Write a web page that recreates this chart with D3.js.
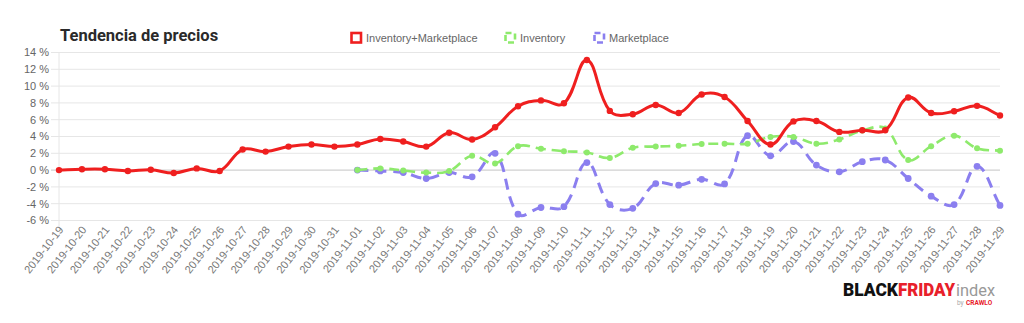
<!DOCTYPE html>
<html><head><meta charset="utf-8">
<script src="https://cdn.jsdelivr.net/npm/d3@7"></script>
<style>
html,body{margin:0;padding:0;background:#fff;}
svg{display:block;font-family:"Liberation Sans",Arial,sans-serif;}
</style></head>
<body>
<svg id="c" width="1024" height="323"></svg>
<script>
const dates = ["2019-10-19","2019-10-20","2019-10-21","2019-10-22","2019-10-23","2019-10-24","2019-10-25","2019-10-26","2019-10-27","2019-10-28","2019-10-29","2019-10-30","2019-10-31",
"2019-11-01","2019-11-02","2019-11-03","2019-11-04","2019-11-05","2019-11-06","2019-11-07","2019-11-08","2019-11-09","2019-11-10","2019-11-11","2019-11-12","2019-11-13","2019-11-14","2019-11-15","2019-11-16","2019-11-17","2019-11-18","2019-11-19","2019-11-20","2019-11-21","2019-11-22","2019-11-23","2019-11-24","2019-11-25","2019-11-26","2019-11-27","2019-11-28","2019-11-29"];
const invMarket = [0.0,0.1,0.1,-0.1,0.05,-0.35,0.2,-0.1,2.45,2.2,2.8,3.05,2.8,
3.05,3.7,3.4,2.8,4.45,3.65,5.1,7.6,8.3,7.95,13.1,7.05,6.65,7.75,6.8,9.0,8.7,5.85,3.05,5.8,5.85,4.55,4.75,4.75,8.65,6.8,7.0,7.65,6.5];
const inventory = [null,null,null,null,null,null,null,null,null,null,null,null,null,
0.0,0.2,-0.05,-0.3,-0.1,1.7,0.8,2.85,2.55,2.25,2.1,1.45,2.65,2.8,2.9,3.1,3.15,3.15,3.95,3.95,3.15,3.65,4.7,4.95,1.2,2.85,4.1,2.6,2.3];
const marketplace = [null,null,null,null,null,null,null,null,null,null,null,null,null,
0.0,-0.1,-0.3,-1.0,-0.3,-0.8,2.0,-5.25,-4.45,-4.35,0.9,-4.1,-4.55,-1.6,-1.8,-1.1,-1.65,4.1,1.7,3.4,0.6,-0.2,1.0,1.2,-1.0,-3.1,-4.1,0.45,-4.2];
const yTicks = [-6,-4,-2,0,2,4,6,8,10,12,14];
const seriesNames = ["Inventory+Marketplace","Inventory","Marketplace"];

(function(){
const svg = d3.select("#c");
const pL = 59, pR = 1000, pT = 52.5, pB = 220.5;
const x = d3.scalePoint().domain(dates).range([pL, pR]);
const y = d3.scaleLinear().domain([-6, 14]).range([pB, pT]);

const g = svg.append("g");
g.selectAll("line.grid").data(yTicks).join("line")
  .attr("x1", pL - 8).attr("x2", pR)
  .attr("y1", d => y(d)).attr("y2", d => y(d))
  .attr("stroke", d => d === 0 ? "#c4c4c4" : "#e6e6e6").attr("stroke-width", 1);
g.append("line").attr("x1", pL).attr("x2", pL).attr("y1", pT).attr("y2", pB + 6)
  .attr("stroke", "#e6e6e6");
g.selectAll("text.yt").data(yTicks).join("text")
  .attr("x", pL - 10).attr("y", d => y(d)).attr("dy", "0.35em")
  .attr("text-anchor", "end").attr("font-size", 11).attr("fill", "#666")
  .text(d => d + " %");
g.selectAll("text.xt").data(dates).join("text")
  .attr("transform", d => `translate(${x(d) + 2},${pB + 7}) rotate(-52)`)
  .attr("dy", "0.35em")
  .attr("text-anchor", "end").attr("font-size", 11).attr("fill", "#777")
  .text(d => d);

function splinePath(pts, t) {
  const n = pts.length;
  const cps = pts.map((p, i) => {
    const p0 = pts[Math.max(0, i - 1)], p2 = pts[Math.min(n - 1, i + 1)];
    const d01 = Math.hypot(p[0] - p0[0], p[1] - p0[1]);
    const d12 = Math.hypot(p2[0] - p[0], p2[1] - p[1]);
    let s01 = d01 / (d01 + d12), s12 = d12 / (d01 + d12);
    if (!isFinite(s01)) s01 = 0; if (!isFinite(s12)) s12 = 0;
    const fa = t * s01, fb = t * s12;
    const prev = [p[0] - fa * (p2[0] - p0[0]), p[1] - fa * (p2[1] - p0[1])];
    const next = [p[0] + fb * (p2[0] - p0[0]), p[1] + fb * (p2[1] - p0[1])];
    return {prev, next};
  });
  const path = d3.path();
  path.moveTo(pts[0][0], pts[0][1]);
  for (let i = 1; i < n; i++) {
    const a = cps[i - 1].next, b = cps[i].prev;
    path.bezierCurveTo(a[0], a[1], b[0], b[1], pts[i][0], pts[i][1]);
  }
  return path.toString();
}

const series = [
  {vals: invMarket, color: "#ef1f1f", width: 3, dash: null, r: 3.2},
  {vals: inventory, color: "#8eea6c", width: 2.6, dash: "10,6", r: 3},
  {vals: marketplace, color: "#8b7fef", width: 3, dash: "11,7", r: 3.4}
];
[2, 1, 0].forEach(si => {
  const s = series[si];
  const pts = dates.map((d, i) => [d, s.vals[i]]).filter(p => p[1] !== null).map(p => [x(p[0]), y(p[1])]);
  svg.append("path").attr("d", splinePath(pts, 0.4)).attr("fill", "none")
    .attr("stroke", s.color).attr("stroke-width", s.width)
    .attr("stroke-dasharray", s.dash).attr("stroke-linejoin", "round");
  svg.append("g").selectAll("circle").data(pts).join("circle")
    .attr("cx", p => p[0]).attr("cy", p => p[1]).attr("r", s.r).attr("fill", s.color);
});

svg.append("text").attr("x", 60).attr("y", 41).attr("font-family", "Roboto, sans-serif")
  .attr("font-weight", "bold").attr("font-size", 16.5).attr("fill", "#2a2a2a").text("Tendencia de precios");

const legX = [350, 504, 593];
seriesNames.forEach((name, i) => {
  const s = series[i];
  svg.append("rect").attr("x", legX[i] + 1.5).attr("y", 33).attr("width", 9.5).attr("height", 9.5)
    .attr("fill", i === 0 ? "#fff" : "none").attr("stroke", s.color).attr("stroke-width", 2.6)
    .attr("stroke-dasharray", i === 0 ? null : "6,4");
  svg.append("text").attr("x", legX[i] + 16).attr("y", 38).attr("dy", "0.35em")
    .attr("font-size", 11).attr("fill", "#666").text(name);
});

const logo = svg.append("g").attr("font-family", "Roboto, sans-serif");
logo.append("text").attr("x", 843).attr("y", 296).attr("font-weight", 900).attr("font-size", 18)
  .attr("fill", "#111").attr("textLength", 55).attr("lengthAdjust", "spacingAndGlyphs").text("BLACK");
logo.append("text").attr("x", 898).attr("y", 296).attr("font-weight", 900).attr("font-size", 18)
  .attr("fill", "#e8202a").attr("textLength", 57).attr("lengthAdjust", "spacingAndGlyphs").text("FRIDAY");
logo.append("text").attr("x", 956).attr("y", 296).attr("font-weight", 400).attr("font-size", 17)
  .attr("fill", "#999").attr("textLength", 39).attr("lengthAdjust", "spacingAndGlyphs").text("index");
logo.append("text").attr("x", 957).attr("y", 305).attr("font-size", 6.5).attr("fill", "#aaa").text("by");
logo.append("text").attr("x", 966).attr("y", 305).attr("font-size", 6.5).attr("font-weight", "bold").attr("fill", "#e8202a").text("CRAWLO");
})();
</script>
</body></html>
